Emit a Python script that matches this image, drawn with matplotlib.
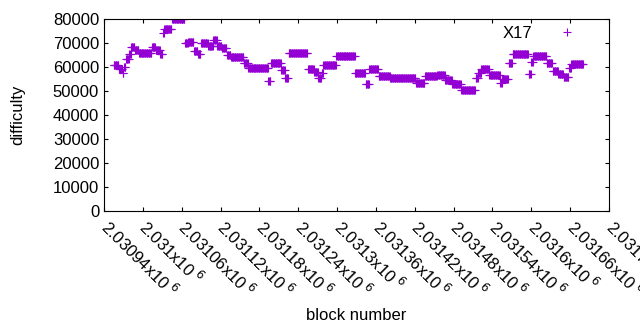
import numpy as np
import matplotlib
matplotlib.use('Agg')
import matplotlib.pyplot as plt

plt.rcParams['font.family'] = ['Liberation Sans', 'DejaVu Sans']

# difficulty steps: first block of each step and its difficulty
base_block = 2030940
step_start = [15, 23, 29, 31, 34, 39, 42, 48, 54, 74, 80, 87, 91, 93, 105, 125, 130,
              139, 145, 150, 161, 169, 175, 182, 190, 196, 216, 223, 254, 258, 274,
              280, 285, 315, 325, 331, 336, 339, 359, 388, 404, 410, 424, 442, 482,
              496, 515, 527, 538, 552, 574, 578, 583, 595, 612, 615, 625, 631, 656,
              660, 663, 684, 693, 702, 710, 718, 722]
step_end = 741
step_diff = [61000, 59000, 57500, 60000, 63500, 65500, 68500, 67000, 65700, 68200,
             67000, 65500, 74000, 76000, 80000, 69800, 70300, 66800, 65400, 70100,
             68900, 71300, 68900, 68000, 65000, 64300, 61500, 59400, 54000, 61500,
             58700, 55500, 65900, 59200, 58000, 55500, 57500, 60800, 64600, 57400,
             52900, 59200, 56200, 55300, 53200, 56200, 56700, 54600, 52800, 50400,
             55500, 57300, 59200, 56700, 53500, 55000, 61500, 65300, 57000, 62200,
             64600, 61800, 58500, 57000, 55700, 59500, 61300]

xticks = np.arange(2030940, 2031721, 60)

lengths = np.diff(step_start + [step_end])
blocks = base_block + np.arange(step_start[0], step_end)
diffs = np.repeat(step_diff, lengths)

fig = plt.figure(figsize=(6.4, 3.3), dpi=100)
ax = fig.add_axes([104/640, 1-211/330, (609-104)/640, (211-19)/330])
ax.plot(blocks, diffs, '+', color='#9400D3', markersize=5.8, markeredgewidth=0.8,
        label='X17', linestyle='none')

ax.set_xlim(2030940, 2031720)
ax.set_ylim(0, 80000)
ax.set_yticks(np.arange(0, 80001, 10000))
ax.set_xticks(xticks)

def fmt(v):
    return '%gx10$^{\\ 6}$' % (v/1e6)

ax.set_xticklabels([fmt(v) for v in xticks], rotation=-45, ha='left', va='center',
                   rotation_mode='anchor', fontsize=12)
ax.tick_params(direction='in', length=3, width=0.8, top=True, right=True, labelsize=12)
ax.tick_params(axis='x', pad=9)
for s in ax.spines.values():
    s.set_linewidth(0.8)

ax.set_xlabel('block number', fontsize=12)
ax.set_ylabel('difficulty', fontsize=12)
ax.xaxis.set_label_coords(0.5, -0.505)
ax.yaxis.set_label_coords(-0.155, 0.5)

ax.legend(loc='upper right', markerfirst=False, frameon=False, fontsize=12,
          bbox_to_anchor=(584/640, 1-26/330), bbox_transform=fig.transFigure,
          borderaxespad=0, borderpad=0, handlelength=2, handletextpad=1.1)

fig.savefig('out.png', dpi=100)
